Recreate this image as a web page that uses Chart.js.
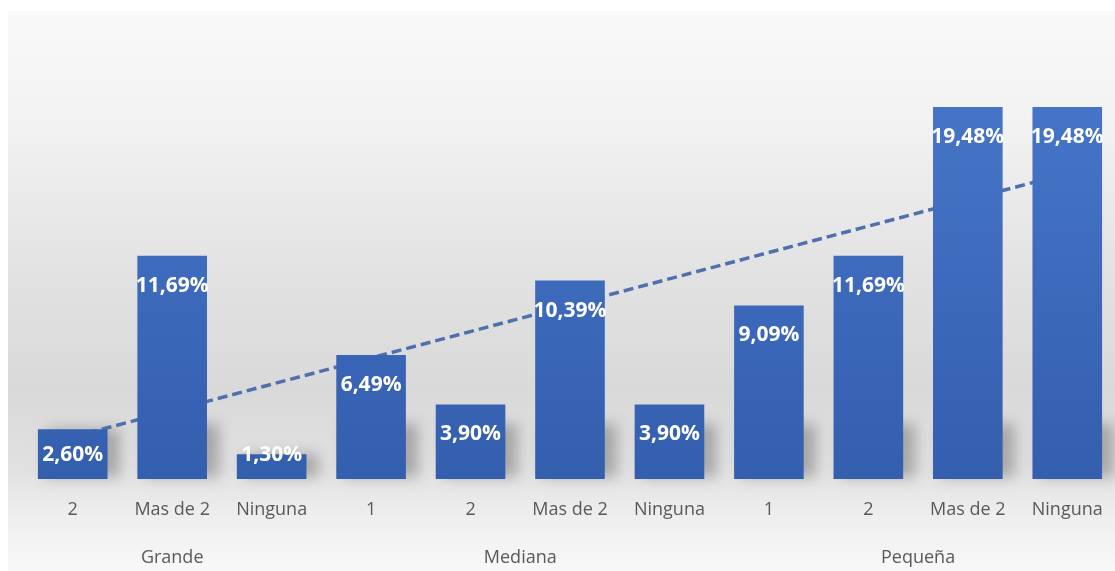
<!DOCTYPE html>
<html>
<head>
<meta charset="utf-8">
<title>Empresas por tamaño</title>
<script src="https://cdn.jsdelivr.net/npm/chart.js@4.4.0/dist/chart.umd.min.js"></script>
<style>
    html, body { margin: 0; padding: 0; background: #fff; overflow: hidden; }
    #wrap { position: absolute; left: 0; top: 0; width: 1125px; height: 571px; }
</style>
</head>
<body>
<div id="wrap"><canvas id="chart"></canvas></div>
<script>
// Data
const subLabels = ['2', 'Mas de 2', 'Ninguna', '1', '2', 'Mas de 2', 'Ninguna', '1', '2', 'Mas de 2', 'Ninguna'];
const groups = ['Grande', 'Mediana', 'Pequeña'];
const groupStart = [0, 3, 7];
const groupEnd = [2, 6, 10];
const values = [2.60, 11.69, 1.30, 6.49, 3.90, 10.39, 3.90, 9.09, 11.69, 19.48, 19.48];
// dashed trend line, read at first and last category
const trendValues = [2.2, null, null, null, null, null, null, null, null, null, 16.0];

const axisFont = { family: 'Open Sans', size: 18 };
const axisColor = '#595959';

// Background gradient panel
const backgroundPlugin = {
    id: 'panelBackground',
    beforeDraw(chart) {
        const ctx = chart.ctx;
        const w = chart.width, h = chart.height;
        ctx.save();
        ctx.fillStyle = '#ffffff';
        ctx.fillRect(0, 0, w, h);
        const g = ctx.createLinearGradient(0, 11, 0, h);
        g.addColorStop(0, '#f9f9f9');
        g.addColorStop(0.2, '#f2f2f2');
        g.addColorStop(0.45, '#e3e3e3');
        g.addColorStop(0.68, '#d9d9d9');
        g.addColorStop(0.82, '#e1e1e1');
        g.addColorStop(0.9, '#eeeeee');
        g.addColorStop(1, '#f8f8f8');
        ctx.fillStyle = g;
        ctx.fillRect(8, 11, w - 8, h - 11);
        ctx.restore();
    }
};

// Soft shadows at the bar bases
const shadowPlugin = {
    id: 'barShadows',
    beforeDatasetsDraw(chart) {
        const meta = chart.getDatasetMeta(0);
        const ctx = chart.ctx;
        ctx.save();
        ctx.filter = 'blur(7px)';
        ctx.fillStyle = 'rgba(60, 60, 60, 0.35)';
        meta.data.forEach(bar => {
            const w = bar.width;
            const top = Math.max(bar.y, bar.base - 55);
            ctx.fillRect(bar.x - w / 2 + 8, top, w + 4, bar.base - top - 2);
        });
        ctx.restore();
    }
};

// Value labels inside the bars
const labelPlugin = {
    id: 'valueLabels',
    afterDatasetsDraw(chart) {
        const meta = chart.getDatasetMeta(0);
        const ctx = chart.ctx;
        ctx.save();
        ctx.font = 'bold 21px "Open Sans"';
        ctx.fillStyle = '#ffffff';
        ctx.textAlign = 'center';
        ctx.textBaseline = 'middle';
        meta.data.forEach((bar, i) => {
            const y = Math.min(bar.y + 30, bar.base - 24);
            ctx.fillText(values[i].toFixed(2).replace('.', ',') + '%', bar.x, y);
        });
        ctx.restore();
    }
};

// Group labels under the category labels
const groupPlugin = {
    id: 'groupLabels',
    afterDraw(chart) {
        const xScale = chart.scales.x;
        const ctx = chart.ctx;
        ctx.save();
        ctx.font = '18px "Open Sans"';
        ctx.fillStyle = axisColor;
        ctx.textAlign = 'center';
        ctx.textBaseline = 'middle';
        groups.forEach((name, i) => {
            const x = (xScale.getPixelForValue(groupStart[i]) + xScale.getPixelForValue(groupEnd[i])) / 2;
            ctx.fillText(name, x, 558);
        });
        ctx.restore();
    }
};

const ctx = document.getElementById('chart').getContext('2d');
new Chart(ctx, {
    type: 'bar',
    data: {
        labels: subLabels,
        datasets: [{
            type: 'bar',
            data: values,
            order: 1,
            barPercentage: 0.7,
            categoryPercentage: 1,
            backgroundColor: (context) => {
                const area = context.chart.chartArea;
                if (!area) return '#4472c4';
                const g = context.chart.ctx.createLinearGradient(0, area.top, 0, area.bottom);
                g.addColorStop(0, '#4675c8');
                g.addColorStop(1, '#345eae');
                return g;
            }
        }, {
            type: 'line',
            data: trendValues,
            order: 2,
            spanGaps: true,
            borderColor: '#5070ad',
            borderWidth: 3.5,
            borderDash: [10, 5],
            pointRadius: 0,
            fill: false
        }]
    },
    options: {
        responsive: true,
        maintainAspectRatio: false,
        animation: false,
        layout: { padding: { left: 23, right: 8, top: 97, bottom: 0 } },
        plugins: {
            legend: { display: false },
            tooltip: { enabled: false }
        },
        scales: {
            x: {
                grid: { display: false, drawTicks: false },
                border: { display: false },
                ticks: { font: axisFont, color: axisColor, padding: 20, maxRotation: 0, autoSkip: false },
                afterFit(scale) { scale.height = 92; }
            },
            y: {
                display: false,
                min: 0,
                max: 20
            }
        }
    },
    plugins: [backgroundPlugin, shadowPlugin, labelPlugin, groupPlugin]
});
</script>
</body>
</html>
